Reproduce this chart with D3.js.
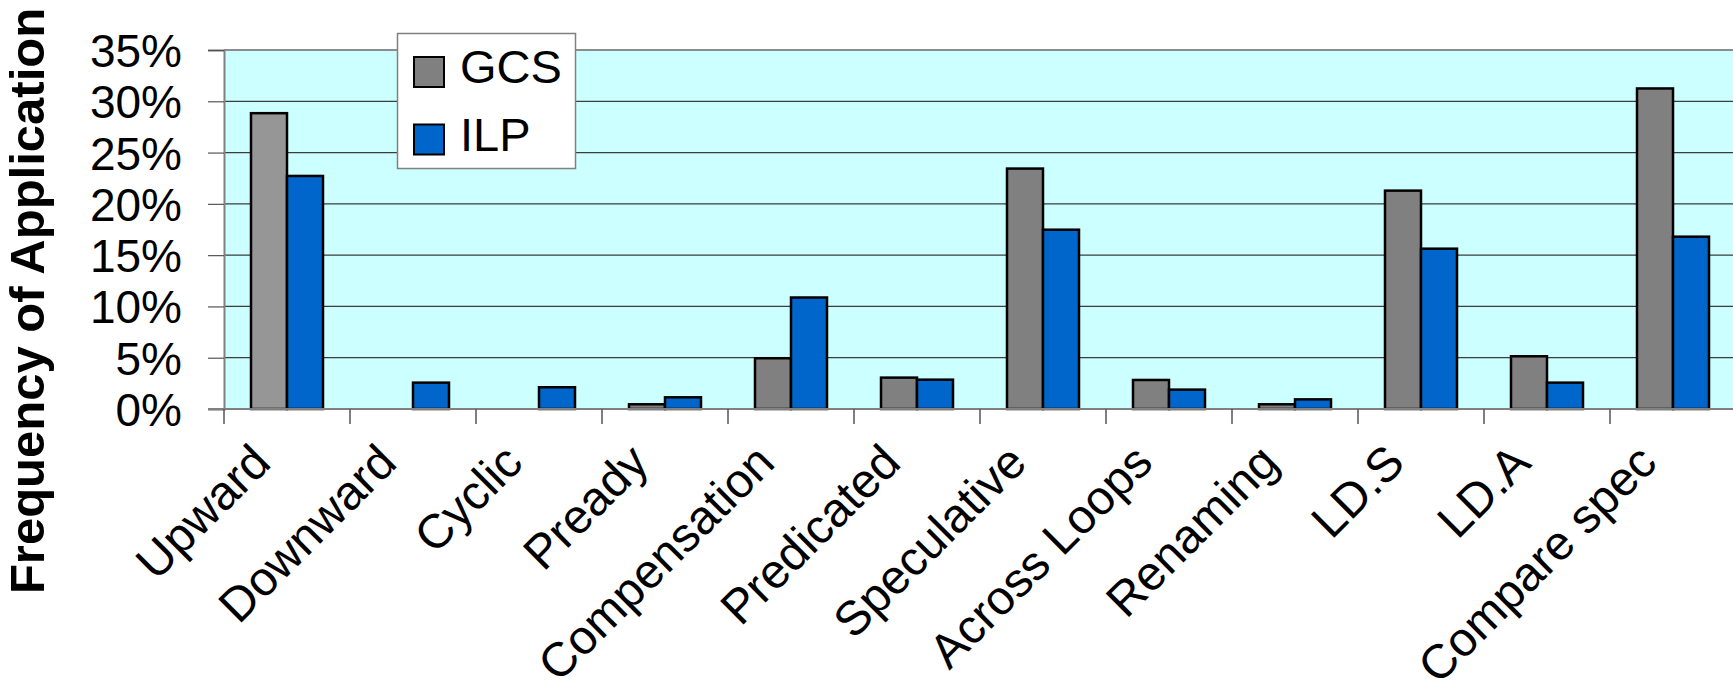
<!doctype html>
<html>
<head>
<meta charset="utf-8">
<script src="https://d3js.org/d3.v7.min.js"></script>
<style>
  body { margin: 0; background: white; }
  svg { font-family: Arial, "Liberation Sans", sans-serif; }
  .grid line { stroke: #3c3c3c; stroke-width: 1.2px; }
  .bar { stroke: black; stroke-width: 2.5px; }
</style>
</head>
<body>
<svg width="1733" height="686"></svg>
<script>
// data
var categories = ["Upward", "Downward", "Cyclic", "Pready", "Compensation", "Predicated",
                  "Speculative", "Across Loops", "Renaming", "LD.S", "LD.A", "Compare spec"];
var series = ["GCS", "ILP"];
var gcs = [0.2884, 0, 0, 0.0046, 0.0495, 0.0306, 0.2344, 0.0283, 0.0046, 0.2129, 0.0514, 0.3125];
var ilp = [0.2272, 0.0257, 0.0212, 0.0114, 0.1087, 0.0286, 0.1748, 0.0189, 0.0094, 0.1563, 0.0257, 0.1680];
var yTicks = [0, 0.05, 0.10, 0.15, 0.20, 0.25, 0.30, 0.35];

var colors = { GCS: "#808080", ILP: "#0066CC" };

var svg = d3.select("svg");
var plotL = 224, plotR = 1736, plotT = 50, plotB = 409;

var x0 = d3.scaleBand().domain(categories).range([plotL, plotR]);
var x1 = d3.scaleBand().domain(series).range([0, x0.bandwidth()]).paddingInner(0).paddingOuter(0.75);
var y = d3.scaleLinear().domain([0, 0.35]).range([plotB, plotT]);

// plot background
svg.append("rect")
  .attr("x", plotL).attr("y", plotT)
  .attr("width", plotR - plotL).attr("height", plotB - plotT)
  .attr("fill", "#CCFFFF");

// gridlines
svg.append("g").attr("class", "grid")
  .selectAll("line").data(yTicks.filter(function (d) { return d > 0 && d < 0.35; }))
  .join("line")
  .attr("x1", plotL).attr("x2", plotR)
  .attr("y1", function (d) { return y(d); }).attr("y2", function (d) { return y(d); });

// top border
svg.append("line")
  .attr("x1", plotL).attr("x2", plotR).attr("y1", y(0.35)).attr("y2", y(0.35))
  .attr("stroke", "#8c8c8c").attr("stroke-width", 2);

// bars
var rows = categories.map(function (c, i) { return { cat: c, GCS: gcs[i], ILP: ilp[i] }; });
var groups = svg.append("g").selectAll("g").data(rows).join("g")
  .attr("transform", function (d) { return "translate(" + x0(d.cat) + ",0)"; });

groups.selectAll("rect")
  .data(function (d, i) { return series.map(function (s) { return { key: s, value: d[s], idx: i }; }); })
  .join("rect")
  .attr("class", "bar")
  .attr("x", function (d) { return x1(d.key); })
  .attr("width", x1.bandwidth())
  .attr("y", function (d) { return y(d.value); })
  .attr("height", function (d) { return y(0) - y(d.value); })
  .attr("fill", function (d) { return (d.key == "GCS" && d.idx == 0) ? "#969696" : colors[d.key]; })
  .style("display", function (d) { return d.value > 0 ? null : "none"; });

// y axis
var yAxis = svg.append("g")
  .attr("transform", "translate(" + plotL + ",0)")
  .call(d3.axisLeft(y).tickValues(yTicks).tickSize(16).tickPadding(26)
        .tickFormat(function (d) { return Math.round(d * 100) + "%"; }));
yAxis.select(".domain").attr("stroke", "#808080").attr("stroke-width", 2);
yAxis.selectAll(".tick line").attr("stroke", "#555").attr("stroke-width", 1.2);
yAxis.selectAll(".tick text")
  .attr("font-size", 46).attr("fill", "black")
  .attr("font-family", "Arial, 'Liberation Sans', sans-serif")
  .attr("dy", "0.36em");

// x axis
var xAxis = svg.append("g").attr("transform", "translate(0," + plotB + ")");
xAxis.append("line")
  .attr("x1", plotL - 16).attr("x2", plotR)
  .attr("stroke", "#808080").attr("stroke-width", 2);
xAxis.selectAll(".xtick").data(categories).join("line")
  .attr("class", "xtick")
  .attr("x1", function (d) { return x0(d); }).attr("x2", function (d) { return x0(d); })
  .attr("y1", 0).attr("y2", 15)
  .attr("stroke", "#555").attr("stroke-width", 1.5);
xAxis.selectAll(".xlabel").data(categories).join("text")
  .attr("class", "xlabel")
  .attr("transform", function (d) {
    return "translate(" + (x0(d) + x0.bandwidth() / 2 - 14) + ",56) rotate(-45)";
  })
  .attr("text-anchor", "end")
  .attr("font-size", 48)
  .text(function (d) { return d; });

// y title
svg.append("text")
  .attr("transform", "translate(44,301) rotate(-90)")
  .attr("text-anchor", "middle")
  .attr("font-size", 49)
  .attr("font-weight", "bold")
  .text("Frequency of Application");

// legend
var legend = svg.append("g");
legend.append("rect")
  .attr("x", 397.5).attr("y", 33.5).attr("width", 178).attr("height", 135)
  .attr("fill", "white").attr("stroke", "#808080").attr("stroke-width", 1.5);
var items = legend.selectAll("g").data(series).join("g")
  .attr("transform", function (d, i) { return "translate(414," + (57 + i * 67.5) + ")"; });
items.append("rect")
  .attr("width", 30).attr("height", 30)
  .attr("fill", function (d) { return colors[d]; })
  .attr("stroke", "black").attr("stroke-width", 2);
items.append("text")
  .attr("x", 46).attr("y", 26)
  .attr("font-size", 47)
  .text(function (d) { return d; });
</script>
</body>
</html>
